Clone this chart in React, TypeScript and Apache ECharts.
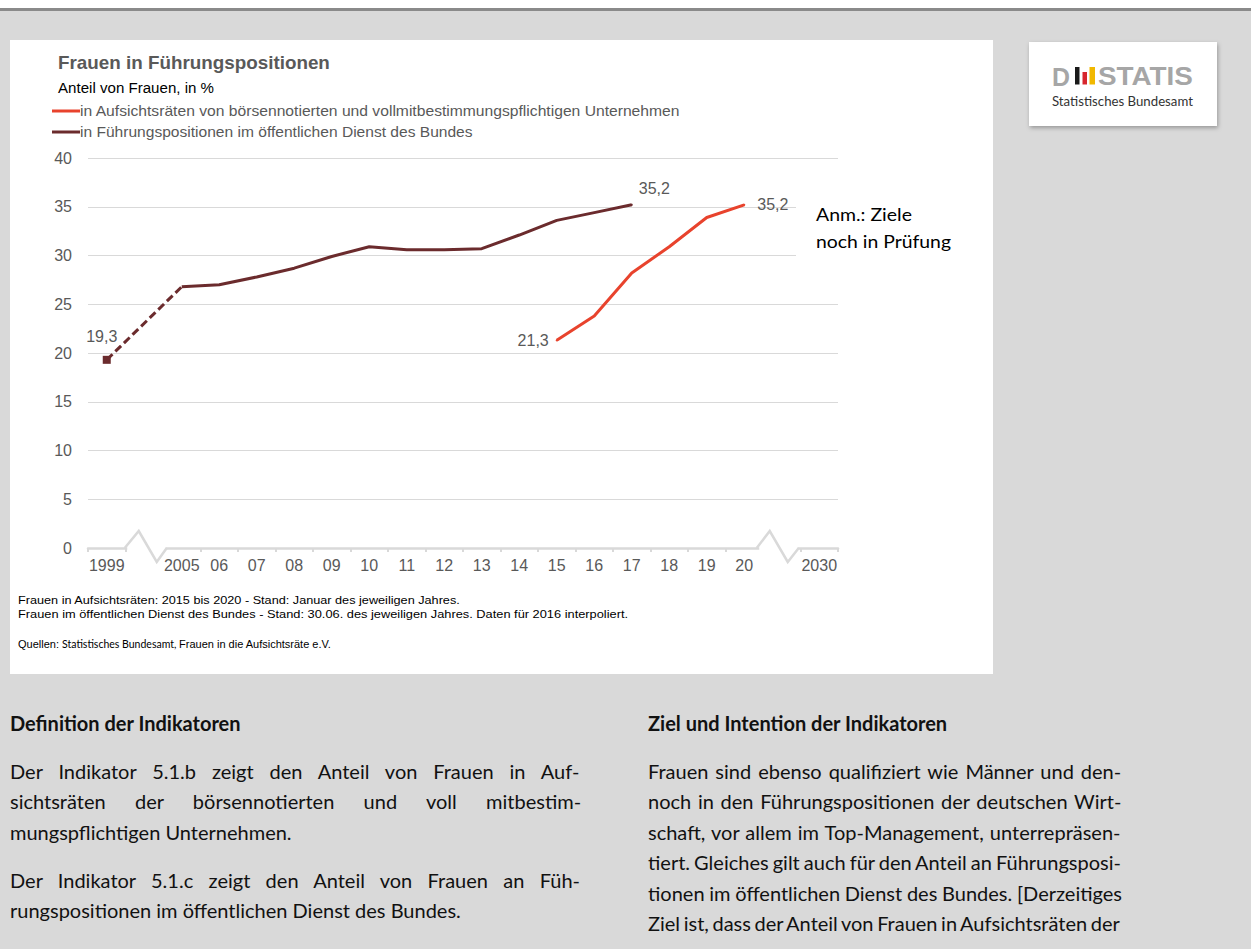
import React, { useEffect, useRef } from "react";
import * as echarts from "echarts";

// ---------- data ----------
const categories = ["1999", "", "2005", "06", "07", "08", "09", "10", "11", "12", "13", "14", "15", "16", "17", "18", "19", "20", "", "2030"];
const breakCategories = [1, 18];

const dienstYears = ["1999", "2005", "06", "07", "08", "09", "10", "11", "12", "13", "14", "15", "16", "17"];
const dienstValues = [19.3, 26.8, 27.0, 27.8, 28.7, 29.9, 30.9, 30.6, 30.6, 30.7, 32.1, 33.6, 34.4, 35.2];

const aufsichtsratYears = ["15", "16", "17", "18", "19", "20"];
const aufsichtsratValues = [21.3, 23.8, 28.2, 30.9, 33.9, 35.2];

const yMin = 0;
const yMax = 40;
const yInterval = 5;

const seriesNames = [
  "in Aufsichtsräten von börsennotierten und vollmitbestimmungspflichtigen Unternehmen",
  "in Führungspositionen im öffentlichen Dienst des Bundes",
];

const footnotes = [
  "Frauen in Aufsichtsräten: 2015 bis 2020 - Stand: Januar des jeweiligen Jahres.",
  "Frauen im öffentlichen Dienst des Bundes - Stand: 30.06. des jeweiligen Jahres. Daten für 2016 interpoliert.",
];

const leftHeading = "Definition der Indikatoren";
const leftParagraphs = [
  [
    "Der Indikator 5.1.b zeigt den Anteil von Frauen in Auf-",
    "sichtsräten der börsennotierten und voll mitbestim-",
    "mungspflichtigen Unternehmen.",
  ],
  [
    "Der Indikator 5.1.c zeigt den Anteil von Frauen an Füh-",
    "rungspositionen im öffentlichen Dienst des Bundes.",
  ],
];
const rightHeading = "Ziel und Intention der Indikatoren";
const rightLines = [
  "Frauen sind ebenso qualifiziert wie Männer und den-",
  "noch in den Führungspositionen der deutschen Wirt-",
  "schaft, vor allem im Top-Management, unterrepräsen-",
  "tiert. Gleiches gilt auch für den Anteil an Führungsposi-",
  "tionen im öffentlichen Dienst des Bundes. [Derzeitiges",
  "Ziel ist, dass der Anteil von Frauen in Aufsichtsräten der",
];

// ---------- styles ----------
const FONT = '"Liberation Sans", Arial, sans-serif';
const HFONT = 'Lato, "Open Sans", sans-serif';
const RED = "#E8432D";
const DARK = "#6B2B2D";
const GREY_TEXT = "#595959";
const AXIS_GREY = "#d9d9d9";
const BODY_SIZE = 20;

let measureCtx: CanvasRenderingContext2D | null = null;
function measure(text: string, font: string): number {
  if (!measureCtx) measureCtx = document.createElement("canvas").getContext("2d");
  if (!measureCtx) return 0;
  measureCtx.font = font;
  return measureCtx.measureText(text).width;
}

function txt(
  text: string,
  x: number,
  y: number,
  size: number,
  color: string,
  opts: { family?: string; weight?: string; width?: number; z?: number } = {}
) {
  const family = opts.family || FONT;
  const weight = opts.weight || "normal";
  let scaleX = 1;
  if (opts.width) {
    const w = measure(text, `${weight} ${size}px ${family}`);
    if (w > 0) scaleX = opts.width / w;
  }
  return {
    type: "text",
    x,
    y,
    scaleX,
    z: opts.z ?? 2,
    silent: true,
    style: {
      text,
      fill: color,
      fontSize: size,
      fontFamily: family,
      fontWeight: weight,
      align: "left",
      verticalAlign: "middle",
    },
  };
}

const fmt = (p: any) => String(p.value).replace(".", ",");
const labelBase = { color: GREY_TEXT, fontSize: 16, fontFamily: FONT, formatter: fmt };
// tiny anchor symbol so that a point label can be drawn on a line without markers
const anchor = { symbol: "circle", symbolSize: 2 };

function buildOption() {
  const dienstAt = (c: string) => {
    const i = dienstYears.indexOf(c);
    return i >= 0 ? dienstValues[i] : null;
  };
  const boardAt = (c: string) => {
    const i = aufsichtsratYears.indexOf(c);
    return i >= 0 ? aufsichtsratValues[i] : null;
  };

  const dashedData = categories.map((c) => {
    if (c === dienstYears[0])
      return {
        value: dienstAt(c),
        symbol: "rect",
        symbolSize: 8,
        label: { show: true, position: "top", distance: 11, offset: [-5, 0], ...labelBase },
      };
    if (c === dienstYears[1]) return { value: dienstAt(c), symbol: "none" };
    return null;
  });

  const lastDienst = dienstYears[dienstYears.length - 1];
  const solidData = categories.map((c) => {
    if (c === dienstYears[0]) return null;
    const v = dienstAt(c);
    if (v === null) return null;
    if (c === lastDienst)
      return { value: v, ...anchor, label: { show: true, position: "right", distance: 6, offset: [0, -16], ...labelBase } };
    return v;
  });

  const firstBoard = aufsichtsratYears[0];
  const lastBoard = aufsichtsratYears[aufsichtsratYears.length - 1];
  const boardData = categories.map((c) => {
    const v = boardAt(c);
    if (v === null) return null;
    if (c === firstBoard)
      return { value: v, ...anchor, label: { show: true, position: "left", distance: 7, ...labelBase } };
    if (c === lastBoard)
      return { value: v, ...anchor, label: { show: true, position: "right", distance: 12, ...labelBase } };
    return v;
  });

  // zigzag break shapes (pixel offsets from the gap category centre)
  const breakShapes = [
    [-18.5, -5.5, 12.5, 21.5],
    [-24, -12, 6, 16],
  ];

  const graphic: any[] = [
    // page frame
    { type: "rect", z: -20, silent: true, shape: { x: 0, y: 0, width: 1251, height: 8 }, style: { fill: "#ffffff" } },
    { type: "rect", z: -20, silent: true, shape: { x: 0, y: 8, width: 1251, height: 3 }, style: { fill: "#8a8a8a" } },
    { type: "rect", z: -20, silent: true, shape: { x: 10, y: 40, width: 983, height: 634 }, style: { fill: "#ffffff" } },
    // logo
    {
      type: "rect",
      z: -20,
      silent: true,
      shape: { x: 1029, y: 42, width: 188, height: 84 },
      style: { fill: "#ffffff", shadowBlur: 4, shadowOffsetX: 1, shadowOffsetY: 2, shadowColor: "rgba(0,0,0,0.3)" },
    },
    txt("D", 1052, 76.5, 25, "#a6a6a6", { weight: "bold", width: 18 }),
    { type: "rect", z: 2, silent: true, shape: { x: 1075, y: 67, width: 4.5, height: 17.5 }, style: { fill: "#1a1a1a" } },
    { type: "rect", z: 2, silent: true, shape: { x: 1082.5, y: 72, width: 4.5, height: 12.5 }, style: { fill: "#d7262e" } },
    { type: "rect", z: 2, silent: true, shape: { x: 1089.5, y: 67, width: 5.5, height: 17.5 }, style: { fill: "#f1b800" } },
    txt("STATIS", 1098, 76.5, 25, "#a6a6a6", { weight: "bold", width: 95 }),
    txt("Statistisches Bundesamt", 1052, 101, 12.5, "#333333", { family: HFONT, width: 141 }),
    // title block
    txt("Frauen in Führungspositionen", 58, 62, 19, GREY_TEXT, { weight: "bold", width: 272 }),
    txt("Anteil von Frauen, in %", 58, 88, 14.5, "#000000", { width: 156 }),
    // legend
    { type: "line", z: 2, silent: true, shape: { x1: 52, y1: 111, x2: 80, y2: 111 }, style: { stroke: RED, lineWidth: 3 } },
    txt(seriesNames[0], 80, 111, 14, GREY_TEXT, { width: 601 }),
    { type: "line", z: 2, silent: true, shape: { x1: 52, y1: 132, x2: 80, y2: 132 }, style: { stroke: DARK, lineWidth: 3 } },
    txt(seriesNames[1], 80, 132, 14, GREY_TEXT, { width: 393 }),
    // annotation
    { type: "rect", z: 10, silent: true, shape: { x: 796, y: 196, width: 190, height: 66 }, style: { fill: "#ffffff" } },
    txt("Anm.: Ziele", 816, 214, 17.5, "#000000", { family: HFONT, width: 96, z: 11 }),
    txt("noch in Prüfung", 816, 241, 17.5, "#000000", { family: HFONT, width: 135, z: 11 }),
    // footnotes
    txt(footnotes[0], 18, 600, 11, "#000000", { width: 443 }),
    txt(footnotes[1], 18, 614, 11, "#000000", { width: 610 }),
    {
      type: "text",
      x: 18,
      y: 644,
      z: 2,
      silent: true,
      style: {
        text: "{a|Quellen: }{b|Statistisches Bundesamt, }{a|Frauen in die Aufsichtsräte e.V.}",
        verticalAlign: "middle",
        align: "left",
        rich: {
          a: { fontSize: 11, fontFamily: FONT, fill: "#000000" },
          b: { fontSize: 10.5, fontFamily: HFONT, fill: "#000000" },
        },
      },
    },
  ];

  return {
    animation: false,
    backgroundColor: "transparent",
    textStyle: { fontFamily: FONT },
    grid: { left: 88, right: 1251 - 838, top: 158, bottom: 949 - 548, containLabel: false },
    xAxis: {
      type: "category",
      data: categories,
      boundaryGap: true,
      axisLine: { lineStyle: { color: AXIS_GREY, width: 2.5 } },
      axisTick: { show: true, interval: 0, length: 4, lineStyle: { color: AXIS_GREY, width: 2 } },
      axisLabel: { interval: 0, color: GREY_TEXT, fontSize: 16, fontFamily: FONT, margin: 9 },
      splitLine: { show: false },
    },
    yAxis: {
      type: "value",
      min: yMin,
      max: yMax,
      interval: yInterval,
      axisLine: { show: false },
      axisTick: { show: false },
      axisLabel: { color: GREY_TEXT, fontSize: 16, fontFamily: FONT, margin: 16 },
      splitLine: { lineStyle: { color: AXIS_GREY, width: 1 } },
    },
    series: [
      {
        name: seriesNames[1] + " (gestrichelt)",
        type: "line",
        data: dashedData,
        connectNulls: true,
        symbol: "none",
        showSymbol: true,
        showAllSymbol: true,
        itemStyle: { color: DARK },
        lineStyle: { color: DARK, width: 3, type: [8, 4] },
        z: 3,
        silent: true,
      },
      {
        name: seriesNames[1],
        type: "line",
        data: solidData,
        symbol: "none",
        showSymbol: true,
        showAllSymbol: true,
        itemStyle: { color: DARK },
        lineStyle: { color: DARK, width: 3 },
        z: 3,
        silent: true,
      },
      {
        name: seriesNames[0],
        type: "line",
        data: boardData,
        symbol: "none",
        showSymbol: true,
        showAllSymbol: true,
        itemStyle: { color: RED },
        lineStyle: { color: RED, width: 3 },
        z: 3,
        silent: true,
      },
      {
        type: "custom",
        data: breakCategories.map((i) => [i, 0]),
        encode: { x: 0, y: 1 },
        silent: true,
        z: 4,
        renderItem: (params: any, api: any) => {
          const pt = api.coord([api.value(0), 0]);
          const cx = pt[0];
          const cy = pt[1];
          const s = breakShapes[params.dataIndex] || breakShapes[0];
          return {
            type: "group",
            children: [
              {
                type: "rect",
                shape: { x: cx + s[0] + 1.5, y: cy - 2, width: s[3] - s[0] - 1.5, height: 9 },
                style: { fill: "#ffffff" },
              },
              {
                type: "polyline",
                shape: {
                  points: [
                    [cx + s[0] - 1, cy],
                    [cx + s[1], cy - 17],
                    [cx + s[2], cy + 14],
                    [cx + s[3] + 1, cy],
                  ],
                },
                style: { stroke: AXIS_GREY, lineWidth: 2.5, fill: "none" },
              },
            ],
          };
        },
      },
    ],
    graphic,
  };
}

function JustLine({ text, width, last, bold }: { text: string; width: number; last?: boolean; bold?: boolean }) {
  const font = `${bold ? "bold" : "normal"} ${BODY_SIZE}px ${HFONT}`;
  const natural = measure(text, font);
  const spaces = (text.match(/ /g) || []).length;
  const ws = !last && spaces > 0 && natural > 0 ? (width - natural) / spaces : 0;
  return (
    <div style={{ whiteSpace: "nowrap", wordSpacing: ws + "px", fontWeight: bold ? "bold" : "normal" }}>{text}</div>
  );
}

const LINE_H = 30.5;

function TextBlock({ lines, left, centerY, width, lastJustified }: { lines: string[]; left: number; centerY: number; width: number; lastJustified?: boolean }) {
  return (
    <div
      style={{
        position: "absolute",
        left,
        top: centerY - LINE_H / 2,
        width,
        fontFamily: HFONT,
        fontSize: BODY_SIZE,
        lineHeight: LINE_H + "px",
        color: "#111111",
      }}
    >
      {lines.map((l, i) => (
        <JustLine key={i} text={l} width={width} last={!lastJustified && i === lines.length - 1} />
      ))}
    </div>
  );
}

export default function App() {
  const ref = useRef<HTMLDivElement>(null);
  useEffect(() => {
    if (!ref.current) return;
    const chart = echarts.init(ref.current, undefined, { renderer: "svg" });
    chart.setOption(buildOption() as any);
    return () => chart.dispose();
  }, []);

  const headingStyle = (left: number): React.CSSProperties => ({
    position: "absolute",
    left,
    top: 723 - LINE_H / 2,
    fontFamily: HFONT,
    fontSize: BODY_SIZE,
    fontWeight: "bold",
    lineHeight: LINE_H + "px",
    color: "#111111",
    whiteSpace: "nowrap",
  });

  return (
    <div
      style={{
        position: "absolute",
        left: 0,
        top: 0,
        width: 1251,
        height: 949,
        background: "#d9d9d9",
        overflow: "hidden",
      }}
    >
      <div ref={ref} style={{ position: "absolute", left: 0, top: 0, width: 1251, height: 949 }} />
      <div style={headingStyle(10)}>{leftHeading}</div>
      <TextBlock lines={leftParagraphs[0]} left={10} centerY={771} width={572} />
      <TextBlock lines={leftParagraphs[1]} left={10} centerY={880} width={572} />
      <div style={headingStyle(648)}>{rightHeading}</div>
      <TextBlock lines={rightLines} left={648} centerY={771} width={474} lastJustified />
    </div>
  );
}
